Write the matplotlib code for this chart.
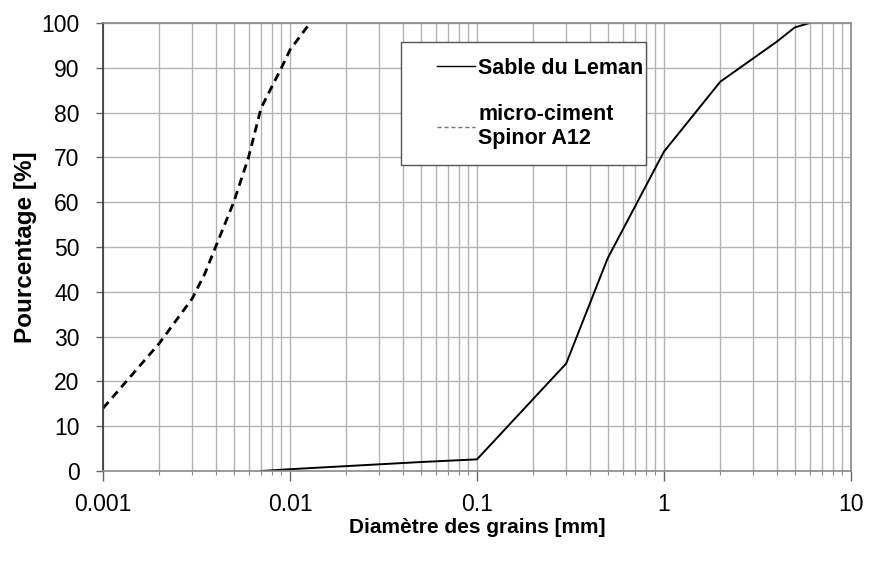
import numpy as np
import matplotlib.pyplot as plt
from matplotlib.lines import Line2D
from matplotlib.legend_handler import HandlerLine2D
from matplotlib.ticker import LogLocator, NullFormatter

plt.rcParams['font.family'] = ['Liberation Sans', 'DejaVu Sans']

# sable du Leman (solid)
sable_d = [0.007, 0.01, 0.05, 0.1, 0.3, 0.5, 1, 2, 3, 4, 5, 6]
sable_p = [0, 0.4, 2.0, 2.6, 24, 47.5, 71.3, 86.9, 92.1, 95.8, 99, 100]

# micro-ciment Spinor A12 (dashed)
ciment_d = [0.001, 0.002, 0.003, 0.0035, 0.004, 0.005, 0.006, 0.007, 0.009, 0.01, 0.0128]
ciment_p = [14, 28.5, 38.5, 44, 50, 60, 70, 81, 90, 94, 100]

xticks = [0.001, 0.01, 0.1, 1, 10]
xticklabels = ['0.001', '0.01', '0.1', '1', '10']
yticks = list(range(0, 101, 10))

fig = plt.figure(figsize=(8.72, 5.61), dpi=100)
ax = fig.add_axes([103/872, 1 - 471/561, 748/872, 448/561])

ax.plot(sable_d, sable_p, color='black', lw=1.4)
ax.plot(ciment_d, ciment_p, color='black', lw=2.0, linestyle=(0, (3, 2)))

ax.set_xscale('log')
ax.set_xlim(0.001, 10)
ax.set_ylim(0, 100)
ax.set_xticks(xticks)
ax.set_xticklabels(xticklabels)
ax.xaxis.set_minor_locator(LogLocator(base=10, subs=np.arange(2, 10)))
ax.xaxis.set_minor_formatter(NullFormatter())
ax.set_yticks(yticks)

ax.grid(True, which='both', axis='x', color='#b4b4b4', lw=1.0)
ax.grid(True, which='major', axis='y', color='#b4b4b4', lw=1.0)
ax.set_axisbelow(True)

for side in ['top', 'right', 'bottom']:
    ax.spines[side].set_color('#8a8a8a')
    ax.spines[side].set_linewidth(1.2)
ax.spines['left'].set_color('#333333')
ax.spines['left'].set_linewidth(1.2)

ax.tick_params(axis='y', which='major', length=5, width=1, color='#666666',
               labelsize=16.5, pad=12)
ax.tick_params(axis='x', which='major', length=7, width=1, color='#666666',
               labelsize=16.5, pad=9)
ax.tick_params(axis='x', which='minor', length=3, width=0.8, color='#888888')

ax.set_xlabel('Diamètre des grains [mm]', fontsize=15, fontweight='bold', labelpad=1)
ax.set_ylabel('Pourcentage [%]', fontsize=17.5, fontweight='bold', labelpad=3)

handles = [Line2D([], [], color='black', lw=1.0),
           Line2D([], [], color='#777777', lw=1.0, linestyle=(0, (3, 2)))]
labels = ['Sable du Leman', 'micro-ciment\nSpinor A12']
leg = ax.legend(handles, labels, loc='upper left',
                bbox_to_anchor=(0.398, 0.683, 0.328, 0.275), mode='expand',
                borderaxespad=0, fancybox=False, framealpha=1, edgecolor='#555555',
                prop={'weight': 'bold', 'size': 15.5}, handlelength=2.7,
                handletextpad=0.15, labelspacing=1.15, borderpad=0.75,
                handler_map={Line2D: HandlerLine2D(xpad=0.95)})
leg.get_frame().set_linewidth(1.0)

fig.savefig('out.png', dpi=100)
